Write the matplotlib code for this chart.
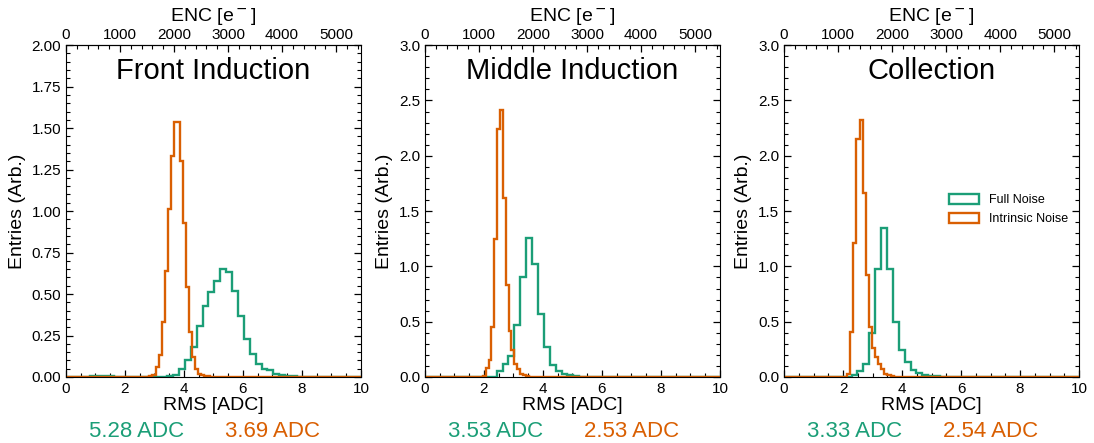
import numpy as np
import matplotlib
matplotlib.use("Agg")
import matplotlib.pyplot as plt
from matplotlib.ticker import MultipleLocator, FormatStrFormatter

# ── data ─────────────────────────────────────────────────────────────────────
planes = ["Front Induction", "Middle Induction", "Collection"]
labels = ["Full Noise", "Intrinsic Noise"]
mean_full = [5.28, 3.53, 3.33]
mean_intr = [3.69, 2.53, 2.54]
ymax = [2.0, 3.0, 3.0]
enc_ticks = [0, 1000, 2000, 3000, 4000, 5000]

# each histogram: first bin edge, bin width, bin contents
full_lo = [0.83, 2.43, 2.29]
full_w = [0.2, 0.2, 0.2]
full_vals = [
    [0.004, 0.005, 0.006, 0.004, 0, 0, 0, 0, 0, 0, 0, 0, 0,
     0.005, 0.015, 0.05, 0.10, 0.18, 0.31, 0.43, 0.51, 0.58, 0.65, 0.63, 0.52,
     0.37, 0.23, 0.14, 0.08, 0.05, 0.04, 0.02, 0.012, 0.006, 0.003],
    [0.05, 0.12, 0.19, 0.47, 0.90, 1.26, 1.02, 0.57, 0.27, 0.11, 0.05,
     0.027, 0.015, 0.008],
    [0.015, 0.05, 0.12, 0.40, 0.98, 1.35, 0.98, 0.50, 0.24, 0.14, 0.06,
     0.04, 0.02, 0.01, 0.005],
]
intr_lo = [2.83, 1.96, 2.14]
intr_w = [0.1027, 0.097, 0.105]
intr_vals = [
    [0.004, 0.012, 0.06, 0.13, 0.33, 0.64, 1.01, 1.33, 1.54, 1.54, 1.30, 0.93,
     0.54, 0.27, 0.12, 0.05, 0.02, 0.01, 0.006, 0.004, 0.002],
    [0.01, 0.08, 0.15, 0.45, 1.25, 2.24, 2.41, 1.62, 0.83, 0.42, 0.24, 0.12,
     0.07, 0.03, 0.015, 0.007],
    [0.03, 0.41, 1.21, 2.15, 2.32, 1.66, 0.92, 0.45, 0.26, 0.18, 0.12, 0.07,
     0.03, 0.015, 0.007],
]
adc_to_enc = 546.0   # e- per ADC count

GREEN = "#1b9e77"
ORANGE = "#d95f02"

plt.rcParams["font.family"] = ["Liberation Sans", "DejaVu Sans"]


def padded(lo, w, vals, xmax=10.0):
    # extend with empty bins so the outline runs along zero over the full range
    vals = np.asarray(vals, float)
    n_left = int(np.ceil(lo / w))
    n_right = int(np.ceil((xmax - (lo + w * len(vals))) / w))
    edges = lo + w * np.arange(-n_left, len(vals) + n_right + 1)
    counts = np.concatenate([np.zeros(n_left), vals, np.zeros(n_right)])
    return edges, counts


fig, axes = plt.subplots(1, 3, figsize=(10.94, 4.43), dpi=100)
fig.subplots_adjust(left=0.0603, right=0.9863, bottom=0.149, top=0.898, wspace=0.217)

for i, ax in enumerate(axes):
    e, c = padded(full_lo[i], full_w[i], full_vals[i])
    ax.hist(e[:-1], bins=e, weights=c, histtype="step", color=GREEN, lw=1.7,
            label=labels[0])
    e, c = padded(intr_lo[i], intr_w[i], intr_vals[i])
    ax.hist(e[:-1], bins=e, weights=c, histtype="step", color=ORANGE, lw=1.7,
            label=labels[1])

    ax.set_xlim(0, 10)
    ax.set_ylim(0, ymax[i])
    ax.xaxis.set_major_locator(MultipleLocator(2))
    ax.xaxis.set_minor_locator(MultipleLocator(0.5))
    if ymax[i] == 2.0:
        ax.yaxis.set_major_locator(MultipleLocator(0.25))
        ax.yaxis.set_minor_locator(MultipleLocator(0.05))
        ax.yaxis.set_major_formatter(FormatStrFormatter("%.2f"))
    else:
        ax.yaxis.set_major_locator(MultipleLocator(0.5))
        ax.yaxis.set_minor_locator(MultipleLocator(0.1))
        ax.yaxis.set_major_formatter(FormatStrFormatter("%.1f"))
    ax.tick_params(which="both", direction="in", right=True, labelsize=11)
    ax.tick_params(axis="x", which="both", top=False)
    ax.tick_params(which="major", length=5, width=0.9)
    ax.tick_params(which="minor", length=3, width=0.8)
    ax.set_xlabel("RMS [ADC]", fontsize=14, labelpad=1)
    ax.set_ylabel("Entries (Arb.)", fontsize=14, labelpad=4)

    sec = ax.secondary_xaxis("top", functions=(lambda a: a * adc_to_enc,
                                               lambda q: q / adc_to_enc))
    sec.set_xticks(enc_ticks)
    sec.xaxis.set_minor_locator(MultipleLocator(200))
    sec.tick_params(which="both", direction="in", labelsize=11, pad=2)
    sec.tick_params(which="major", length=5, width=0.9)
    sec.tick_params(which="minor", length=3, width=0.8)
    sec.set_xlabel("ENC [e$^-$]", fontsize=14, labelpad=5)

    ax.text(0.5, 0.922, planes[i], transform=ax.transAxes, ha="center",
            va="center", fontsize=21)
    ax.text(0.24, -0.165, f"{mean_full[i]:.2f} ADC", transform=ax.transAxes,
            ha="center", va="center", fontsize=16, color=GREEN)
    ax.text(0.70, -0.165, f"{mean_intr[i]:.2f} ADC", transform=ax.transAxes,
            ha="center", va="center", fontsize=16, color=ORANGE)

axes[2].legend(loc="center left", bbox_to_anchor=(0.52, 0.505), frameon=False,
               fontsize=9, handlelength=2.4, handleheight=0.9,
               handletextpad=0.8, labelspacing=0.5)

plt.savefig("out.png", dpi=100)
